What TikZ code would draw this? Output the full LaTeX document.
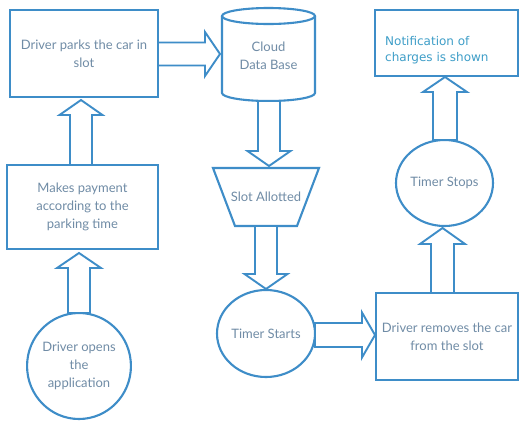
\documentclass[tikz,border=0pt]{standalone}
\usepackage{fontspec}
\setmainfont{Lato}
\newfontfamily\notefont{DejaVu Sans}
\usetikzlibrary{calc,shapes.geometric}
\definecolor{lnblue}{RGB}{62,141,200}
\definecolor{txblue}{RGB}{112,140,166}
\definecolor{ntblue}{RGB}{62,158,200}
\tikzset{
  shp/.style={draw=lnblue, line width=2.1pt},
  box/.style={shp, rectangle, inner sep=0pt, align=center, text=txblue,
    font=\fontsize{13}{18}\selectfont},
  ell/.style={shp, ellipse, inner sep=0pt, align=center, text=txblue,
    font=\fontsize{13}{18}\selectfont},
  lbl/.style={align=center, text=txblue, font=\fontsize{13}{18}\selectfont},
  blk/.style={draw=lnblue, line width=1.9pt, line join=miter, fill=white}
}
% #1 start, #2 tip, #3 shaft half width, #4 head half width, #5 head length
\newcommand\blockarr[5]{%
  \coordinate (hb) at ($(#2)!#5!(#1)$);
  \draw[blk] ($(#1)!#3!90:(#2)$) -- ($(hb)!#3!90:(#2)$) -- ($(hb)!#4!90:(#2)$)
    -- (#2) -- ($(hb)!#4!-90:(#2)$) -- ($(hb)!#3!-90:(#2)$)
    -- ($(#1)!#3!-90:(#2)$) -- cycle;}
\begin{document}
\begin{tikzpicture}[x=1pt,y=1pt]
\fill[white] (0,0) rectangle (520,-421);
\useasboundingbox (0,0) rectangle (520,-421);

% nodes
\node[box, minimum width=148pt, minimum height=87pt] (park) at (84,-53.5) {Driver parks the car in\\slot};
\node[box, minimum width=151pt, minimum height=84pt] (pay) at (82.5,-207) {Makes payment\\according to the\\parking time};
\node[ell, minimum width=102pt, minimum height=106pt] (open) at (79,-366) {Driver opens\\the\\application};

% cylinder
\draw[shp] (222,-16) -- (222,-93) arc[start angle=180, end angle=360, x radius=46.5, y radius=8] -- (315,-16);
\draw[shp] (268.5,-16) ellipse[x radius=46.5, y radius=8];
\node[lbl] (cloud) at (268.5,-56) {Cloud\\Data Base};

% trapezoid
\draw[shp] (213,-168) -- (319,-168) -- (297,-226) -- (235,-226) -- cycle;
\node[lbl] (slot) at (266,-197) {Slot Allotted};

\node[ell, minimum width=98pt, minimum height=87pt] (tstart) at (266,-333.5) {Timer Starts};
\node[box, minimum width=142pt, minimum height=87pt] (remove) at (447,-336.5) {Driver removes the car\\from the slot};
\node[ell, minimum width=97pt, minimum height=86pt] (tstop) at (444.5,-183) {Timer Stops};
\node[box, minimum width=143pt, minimum height=66pt] (note) at (446.5,-43) {};
\node[anchor=west, align=left, text=ntblue, inner sep=0pt,
  font=\notefont\fontsize{12}{16}\selectfont] (notetxt) at (385,-50) {Notification of\\charges is shown};

% arrow end coordinates
\coordinate (a1s) at (158,-54);   \coordinate (a1e) at (220,-54);
\coordinate (a2s) at (269,-101);  \coordinate (a2e) at (269,-166);
\coordinate (a3s) at (266,-226);  \coordinate (a3e) at (266,-289);
\coordinate (a4s) at (315,-335);  \coordinate (a4e) at (375,-335);
\coordinate (a5s) at (442.5,-293);\coordinate (a5e) at (442.5,-228);
\coordinate (a6s) at (445,-140);  \coordinate (a6e) at (445,-77);
\coordinate (a7s) at (81,-165);   \coordinate (a7e) at (81,-100);
\coordinate (a8s) at (79,-313);   \coordinate (a8e) at (79,-253);

\blockarr{a1s}{a1e}{11.5pt}{22pt}{15pt}
\blockarr{a2s}{a2e}{11pt}{21.5pt}{15pt}
\blockarr{a3s}{a3e}{11pt}{21.5pt}{15pt}
\blockarr{a4s}{a4e}{12pt}{22.5pt}{13pt}
\blockarr{a5s}{a5e}{11.5pt}{22.5pt}{16pt}
\blockarr{a6s}{a6e}{12pt}{22pt}{15pt}
\blockarr{a7s}{a7e}{11pt}{21.5pt}{15pt}
\blockarr{a8s}{a8e}{11pt}{22pt}{15pt}
\end{tikzpicture}
\end{document}
